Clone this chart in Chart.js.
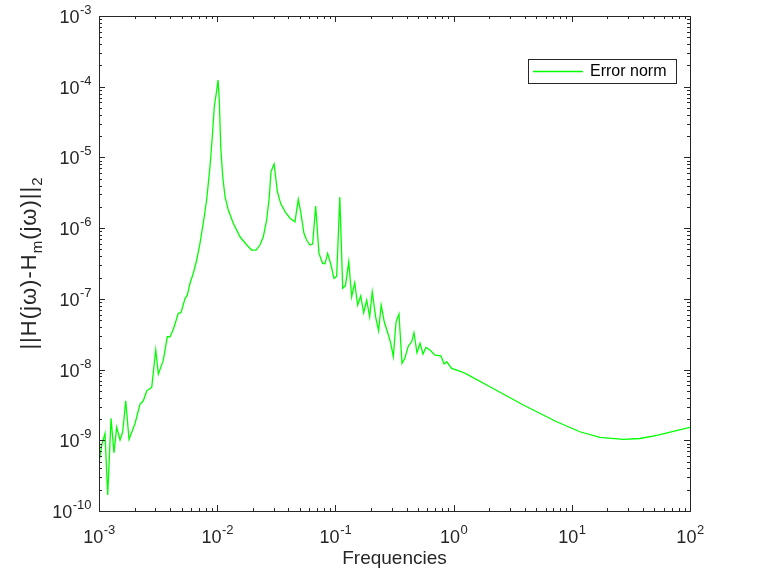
<!DOCTYPE html>
<html>
<head>
<meta charset="utf-8">
<script src="https://cdn.jsdelivr.net/npm/chart.js@4.4.0/dist/chart.umd.min.js"></script>
<style>
  html, body { margin: 0; padding: 0; background: #fff; }
  canvas { display: block; }
</style>
</head>
<body>
<canvas id="errChart" width="763" height="572"></canvas>
<script>
// frequencies (rad/s) and ||H(jw)-Hm(jw)||_2
var frequencies = [
  1.0e-3, 1.054e-3, 1.124e-3, 1.185e-3, 1.264e-3, 1.339e-3, 1.412e-3, 1.506e-3, 1.588e-3, 1.683e-3,
  1.795e-3, 2.018e-3, 2.224e-3, 2.371e-3, 2.535e-3, 2.793e-3, 3.020e-3, 3.178e-3, 3.501e-3, 3.784e-3,
  3.99e-3, 4.26e-3, 4.69e-3, 4.94e-3, 5.35e-3, 5.59e-3, 5.89e-3, 6.28e-3, 6.71e-3, 7.15e-3,
  7.62e-3, 8.14e-3, 8.69e-3, 9.09e-3, 9.45e-3, 9.91e-3, 1.016e-2, 1.042e-2, 1.071e-2, 1.114e-2,
  1.165e-2, 1.242e-2, 1.368e-2, 1.559e-2, 1.778e-2, 1.959e-2, 2.13e-2, 2.30e-2, 2.455e-2, 2.62e-2,
  2.76e-2, 2.85e-2, 3.03e-2, 3.23e-2, 3.44e-2, 3.75e-2, 4.13e-2, 4.55e-2, 4.85e-2, 5.08e-2,
  5.42e-2, 5.71e-2, 6.09e-2, 6.42e-2, 6.81e-2, 7.26e-2, 7.80e-2, 8.16e-2, 8.60e-2, 9.18e-2,
  9.73e-2, 1.025e-1, 1.09e-1, 1.153e-1, 1.217e-1, 1.297e-1, 1.373e-1, 1.456e-1, 1.544e-1, 1.637e-1,
  1.735e-1, 1.84e-1, 1.95e-1, 2.05e-1, 2.19e-1, 2.32e-1, 2.44e-1, 2.59e-1, 2.81e-1, 2.94e-1,
  3.09e-1, 3.26e-1, 3.45e-1, 3.66e-1, 3.86e-1, 4.14e-1, 4.42e-1, 4.62e-1, 4.90e-1, 5.20e-1,
  5.51e-1, 5.84e-1, 6.31e-1, 6.96e-1, 7.82e-1, 8.30e-1, 8.75e-1, 9.64e-1, 1.17, 1.29,
  2.03, 3.89, 7.45, 11.7, 17.3, 27.3, 37.8, 52.3, 72.3, 100
];
var errorNorm = [
  4.81e-10, 8.55e-10, 1.25e-9, 1.68e-10, 2.04e-9, 6.65e-10, 1.52e-9, 1.01e-9, 1.32e-9, 3.62e-9,
  1.03e-9, 1.73e-9, 3.25e-9, 3.62e-9, 5.01e-9, 5.60e-9, 1.89e-8, 8.63e-9, 1.36e-8, 2.91e-8,
  2.91e-8, 3.71e-8, 6.24e-8, 6.36e-8, 1.02e-7, 1.13e-7, 1.66e-7, 2.30e-7, 3.54e-7, 6.10e-7,
  1.17e-6, 2.50e-6, 7.39e-6, 1.96e-5, 5.21e-5, 8.97e-5, 1.24e-4, 6.49e-5, 1.42e-5, 5.33e-6,
  2.78e-6, 1.80e-6, 1.17e-6, 7.55e-7, 5.77e-7, 4.90e-7, 4.90e-7, 5.77e-7, 7.55e-7, 1.30e-6,
  2.78e-6, 6.28e-6, 8.07e-6, 3.27e-6, 2.24e-6, 1.71e-6, 1.38e-6, 1.23e-6, 2.55e-6, 1.71e-6,
  8.44e-7, 6.79e-7, 5.77e-7, 5.96e-7, 2.06e-6, 4.40e-7, 3.18e-7, 3.13e-7, 4.40e-7, 3.01e-7,
  1.95e-7, 2.08e-7, 2.75e-6, 1.41e-7, 1.54e-7, 3.35e-7, 1.07e-7, 1.69e-7, 8.17e-8, 1.10e-7,
  6.36e-8, 9.61e-8, 5.58e-8, 1.26e-7, 5.58e-8, 3.54e-8, 8.17e-8, 4.74e-8, 3.08e-8, 2.35e-8,
  1.52e-8, 4.74e-8, 6.10e-8, 1.23e-8, 1.44e-8, 2.15e-8, 2.47e-8, 3.32e-8, 1.73e-8, 2.35e-8,
  1.66e-8, 2.06e-8, 1.89e-8, 1.60e-8, 1.56e-8, 1.20e-8, 1.29e-8, 1.04e-8, 9.31e-9, 8.63e-9,
  5.71e-9, 3.15e-9, 1.83e-9, 1.32e-9, 1.10e-9, 1.03e-9, 1.06e-9, 1.17e-9, 1.34e-9, 1.52e-9
];
var xDecades = [-3, -2, -1, 0, 1, 2];
var yDecades = [-10, -9, -8, -7, -6, -5, -4, -3];
var seriesLabel = 'Error norm';
var xTitle = 'Frequencies';

var axisColor = '#262626';
var fontFamily = '"Liberation Sans", Arial, Helvetica, sans-serif';

// "10" with a raised exponent, like matlab's log tick labels
function drawPower(ctx, exp, x, y, align) {
  ctx.font = '18px ' + fontFamily;
  var wb = ctx.measureText('10').width;
  ctx.font = '13px ' + fontFamily;
  var we = ctx.measureText(String(exp)).width;
  var left = align === 'center' ? x - (wb + we) / 2 : x - wb - we;
  ctx.textAlign = 'left';
  ctx.textBaseline = 'alphabetic';
  ctx.font = '18px ' + fontFamily;
  ctx.fillText('10', left, y);
  ctx.font = '13px ' + fontFamily;
  ctx.fillText(String(exp), left + wb + 0.5, y - 9);
}

var matlabAxes = {
  id: 'matlabAxes',
  afterDraw: function(chart) {
    var ctx = chart.ctx, a = chart.chartArea;
    var xs = chart.scales.x, ys = chart.scales.y;
    ctx.save();
    ctx.strokeStyle = axisColor;
    ctx.fillStyle = axisColor;
    ctx.lineWidth = 1;

    // tick marks on all four sides, pointing inwards
    ctx.beginPath();
    xDecades.forEach(function(k) {
      for (var m = 1; m <= 9; m++) {
        var v = m * Math.pow(10, k);
        if (v > xs.max * 1.0001) break;
        var px = Math.round(xs.getPixelForValue(v)) + 0.5;
        var len = m === 1 ? 6 : 3;
        ctx.moveTo(px, a.bottom); ctx.lineTo(px, a.bottom - len);
        ctx.moveTo(px, a.top); ctx.lineTo(px, a.top + len);
      }
    });
    yDecades.forEach(function(k) {
      for (var m = 1; m <= 9; m++) {
        var v = m * Math.pow(10, k);
        if (v > ys.max * 1.0001) break;
        var py = Math.round(ys.getPixelForValue(v)) + 0.5;
        var len = m === 1 ? 6 : 3;
        ctx.moveTo(a.left, py); ctx.lineTo(a.left + len, py);
        ctx.moveTo(a.right, py); ctx.lineTo(a.right - len, py);
      }
    });
    ctx.stroke();
    ctx.strokeRect(Math.round(a.left) + 0.5, Math.round(a.top) + 0.5,
      Math.round(a.right - a.left), Math.round(a.bottom - a.top));

    // tick labels
    xDecades.forEach(function(k) {
      drawPower(ctx, k, xs.getPixelForValue(Math.pow(10, k)), a.bottom + 32, 'center');
    });
    yDecades.forEach(function(k) {
      drawPower(ctx, k, a.left - 8, ys.getPixelForValue(Math.pow(10, k)) + 7, 'right');
    });

    // x title
    ctx.font = '19px ' + fontFamily;
    ctx.textAlign = 'center';
    ctx.textBaseline = 'alphabetic';
    ctx.fillText(xTitle, (a.left + a.right) / 2, 564);

    // y title with subscripts, drawn glyph by glyph with matlab-like spacing
    var parts = [
      { t: '||H(j\u03c9)-H', sub: false },
      { t: 'm', sub: true },
      { t: '(j\u03c9)||', sub: false },
      { t: '2', sub: true }
    ];
    var gap = 1;
    var glyphs = [];
    var total = 0;
    parts.forEach(function(p) {
      ctx.font = (p.sub ? '15px ' : '22px ') + fontFamily;
      Array.from(p.t).forEach(function(ch) {
        var w = ctx.measureText(ch).width;
        glyphs.push({ ch: ch, sub: p.sub, w: w });
        total += w + gap;
      });
    });
    total -= gap;
    ctx.save();
    ctx.translate(36, (a.top + a.bottom) / 2);
    ctx.rotate(-Math.PI / 2);
    ctx.textAlign = 'left';
    var cx = -total / 2;
    glyphs.forEach(function(g) {
      ctx.font = (g.sub ? '15px ' : '22px ') + fontFamily;
      ctx.fillText(g.ch, cx, g.sub ? 6 : 0);
      cx += g.w + gap;
    });
    ctx.restore();

    // legend box
    var lx = 528, ly = 59, lw = 148, lh = 24;
    ctx.fillStyle = '#ffffff';
    ctx.fillRect(lx, ly, lw, lh);
    ctx.strokeStyle = axisColor;
    ctx.strokeRect(lx + 0.5, ly + 0.5, lw, lh);
    var ds = chart.data.datasets[0];
    ctx.strokeStyle = ds.borderColor;
    ctx.lineWidth = ds.borderWidth;
    ctx.beginPath();
    ctx.moveTo(533, ly + 12.5);
    ctx.lineTo(583, ly + 12.5);
    ctx.stroke();
    ctx.fillStyle = '#000000';
    ctx.font = '16px ' + fontFamily;
    ctx.textAlign = 'left';
    ctx.textBaseline = 'middle';
    ctx.fillText(ds.label, 590, ly + 13);
    ctx.restore();
  }
};

var points = frequencies.map(function(f, i) { return { x: f, y: errorNorm[i] }; });

new Chart(document.getElementById('errChart'), {
  type: 'line',
  data: {
    datasets: [{
      label: seriesLabel,
      data: points,
      borderColor: '#00ff00',
      borderWidth: 1.3,
      pointRadius: 0,
      tension: 0,
      fill: false
    }]
  },
  options: {
    responsive: false,
    animation: false,
    devicePixelRatio: 1,
    layout: { padding: { left: 0, top: 16, right: 73, bottom: 0 } },
    plugins: { legend: { display: false }, tooltip: { enabled: false } },
    scales: {
      x: {
        type: 'logarithmic', min: 1e-3, max: 1e2,
        grid: { display: false }, border: { display: false },
        ticks: { display: false },
        afterFit: function(s) { s.height = 61; }
      },
      y: {
        type: 'logarithmic', min: 1e-10, max: 1e-3,
        grid: { display: false }, border: { display: false },
        ticks: { display: false },
        afterFit: function(s) { s.width = 99; }
      }
    }
  },
  plugins: [matlabAxes]
});
</script>
</body>
</html>
